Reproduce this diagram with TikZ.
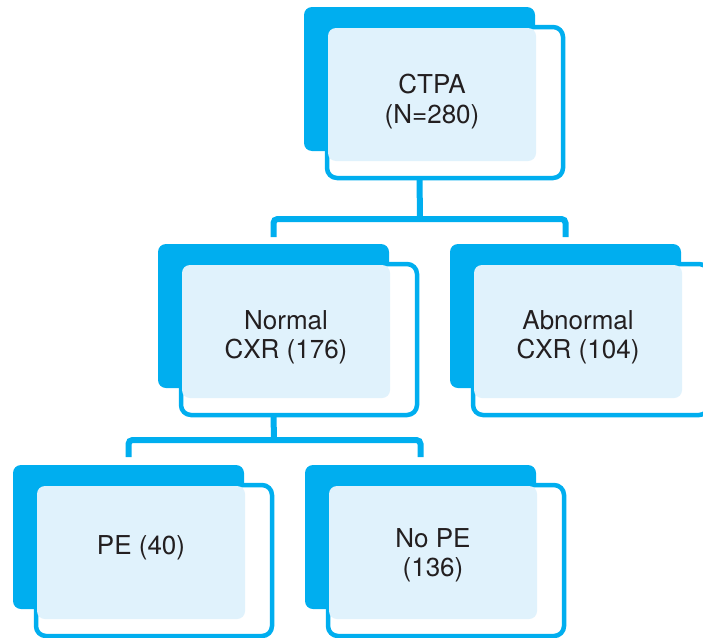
\documentclass[tikz,border=0pt]{standalone}
\usepackage{fontspec}
\setmainfont{TeX Gyre Heros}
\definecolor{cyanb}{HTML}{00AEEF}
\definecolor{paleb}{HTML}{E0F2FC}
\definecolor{ink}{HTML}{231F20}
\tikzset{
  back/.style={fill=cyanb, draw=none, rounded corners=8pt, minimum width=231pt, minimum height=144pt, anchor=north west, inner sep=0pt, outer sep=0pt},
  frame/.style={fill=white, draw=cyanb, line width=4.5pt, rounded corners=10pt, minimum width=236pt, minimum height=151pt, anchor=north west, inner sep=0pt, outer sep=0pt},
  face/.style={fill=paleb, draw=none, rounded corners=8pt, minimum width=208pt, minimum height=133pt, anchor=north west, inner sep=0pt, outer sep=0pt},
  words/.style={text=ink, font=\fontsize{26}{29.5}\selectfont, align=center, inner sep=0pt},
  conn/.style={draw=cyanb, line width=6pt, rounded corners=4pt}
}
\newcommand\flowbox[5]{%
  \node[back] (#1) at (#2pt,-#3pt) {};
  \node[frame] (#1F) at ([xshift=23pt,yshift=-20pt]#1.north west) {};
  \node[face] (#1T) at ([xshift=24pt,yshift=-21pt]#1.north west) {};
  \node[words] (#1L) at ([yshift=#5pt]#1T.center) {#4};
}
\begin{document}
\begin{tikzpicture}
\useasboundingbox (0,0) rectangle (703pt,-637pt);
\clip (0,0) rectangle (703pt,-637pt);
\flowbox{ctpa}{304}{7}{CTPA\\(N=280)}{-7}
\flowbox{normal}{158}{244}{Normal\\CXR (176)}{-6}
\flowbox{abn}{450}{244}{Abnormal\\CXR (104)}{-6}
\flowbox{pe}{13}{465}{PE (40)}{5}
\flowbox{nope}{305}{465}{No PE\\(136)}{-3}
\coordinate (j1) at (420pt,-219pt);
\coordinate (j2) at (274pt,-440pt);
\draw[conn] (ctpa.south |- ctpaF.south) -- (j1);
\draw[conn] ([yshift=7pt]normal.north) |- (j1) -| ([yshift=7pt]abn.north);
\draw[conn] (normal.south |- normalF.south) -- (j2);
\draw[conn] ([yshift=8pt]pe.north) |- (j2) -| ([yshift=8pt]nope.north);
\end{tikzpicture}
\end{document}
